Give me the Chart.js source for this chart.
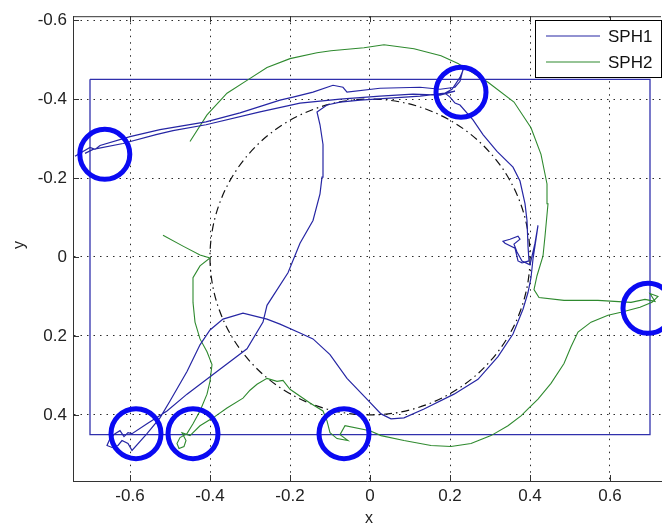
<!DOCTYPE html>
<html>
<head>
<meta charset="utf-8">
<script src="https://cdn.jsdelivr.net/npm/chart.js@4.4.0/dist/chart.umd.min.js"></script>
<style>
  html, body { margin: 0; padding: 0; background: #fff; }
</style>
</head>
<body>
<canvas id="myChart" width="662" height="529"></canvas>
<script>
// axis ranges and ticks (y axis is reversed, like the original plot)
var xMin = -0.7425, xMax = 0.7275;
var yMin = -0.61, yMax = 0.5675;
var xTicks = [-0.6, -0.4, -0.2, 0, 0.2, 0.4, 0.6];
var yTicks = [-0.6, -0.4, -0.2, 0, 0.2, 0.4];

// SPH1 track (blue)
var sph1Path = [
  [-0.7375,-0.255],[-0.7175,-0.2675],[-0.70,-0.2775],[-0.6875,-0.2725],[-0.675,-0.2825],
  [-0.60,-0.305],[-0.525,-0.3225],[-0.41,-0.3425],[-0.325,-0.365],[-0.225,-0.3975],
  [-0.1925,-0.405],[-0.1425,-0.4175],[-0.0925,-0.435],[-0.0675,-0.43],[-0.0575,-0.4175],
  [0.025,-0.4275],[0.125,-0.43],[0.175,-0.425],[0.2125,-0.43],
  [0.225,-0.445],[0.2325,-0.475],[0.2375,-0.485],[0.225,-0.455],[0.205,-0.425],[0.1875,-0.415],[0.20,-0.405],[0.2125,-0.39],
  [0.225,-0.385],[0.2575,-0.3475],[0.2825,-0.31],[0.3175,-0.2675],[0.3575,-0.2275],[0.375,-0.1925],
  [0.3875,-0.135],[0.3925,-0.0925],[0.395,-0.0275],[0.3975,0.01],
  [0.38,0.015],[0.37,0.01],[0.3625,-0.0225],[0.3375,-0.035],[0.3325,-0.04],[0.35,-0.045],[0.37,-0.0525],
  [0.375,-0.045],[0.36,-0.0325],[0.3675,-0.0125],[0.38,0.01],
  [0.40,0.02],[0.4125,-0.035],[0.42,-0.08],[0.415,-0.045],[0.4075,0.005],[0.4025,0.0525],[0.395,0.09],
  [0.3825,0.1325],[0.3575,0.195],[0.32,0.2525],[0.27,0.31],[0.21,0.3475],[0.135,0.385],[0.085,0.4075],
  [0.0525,0.41],[0.0275,0.3975],[-0.0125,0.355],[-0.0575,0.3075],[-0.10,0.2475],[-0.1425,0.2075],
  [-0.175,0.1925],[-0.225,0.17],[-0.2575,0.1575],[-0.3175,0.1425],[-0.3675,0.1575],[-0.40,0.185],
  [-0.425,0.2225],[-0.4575,0.29],[-0.50,0.365],[-0.525,0.4075],[-0.5575,0.4475],[-0.595,0.49],
  [-0.605,0.4725],[-0.62,0.465],[-0.63,0.4775],[-0.645,0.4825],[-0.6575,0.4775],[-0.65,0.46],
  [-0.6375,0.4475],[-0.625,0.44],[-0.615,0.455],[-0.605,0.445],[-0.595,0.4475],
  [-0.5575,0.4225],[-0.5075,0.39],[-0.4575,0.3475],[-0.3925,0.2975],[-0.3075,0.2325],[-0.2675,0.165],
  [-0.2575,0.1225],[-0.205,0.04],[-0.175,-0.035],[-0.1425,-0.0925],[-0.125,-0.16],[-0.12,-0.2025],
  [-0.1175,-0.285],[-0.125,-0.335],[-0.1325,-0.3675],[-0.1075,-0.385],[-0.075,-0.3925],[-0.025,-0.3975],
  [0.05,-0.4025],[0.125,-0.4075],[0.1875,-0.415],[0.2125,-0.42],
  [0.175,-0.41],[0.1075,-0.4125],[0.025,-0.4075],[-0.075,-0.40],[-0.175,-0.39],[-0.275,-0.3675],
  [-0.41,-0.335],[-0.4925,-0.32],[-0.535,-0.31],[-0.6175,-0.2875],[-0.6925,-0.2725],[-0.7125,-0.2625]
];

// SPH2 track (green)
var sph2Path = [
  [-0.5175,-0.055],[-0.4675,-0.0275],[-0.425,-0.005],[-0.40,0.0025],[-0.425,0.0225],[-0.4425,0.0525],
  [-0.4425,0.115],[-0.4375,0.165],[-0.425,0.2075],[-0.4075,0.24],[-0.395,0.2725],[-0.40,0.315],
  [-0.4075,0.3475],[-0.425,0.39],[-0.4425,0.4225],[-0.4575,0.4475],
  [-0.475,0.4575],[-0.4825,0.4725],[-0.4775,0.485],[-0.465,0.48],[-0.46,0.465],[-0.47,0.445],[-0.45,0.4525],
  [-0.425,0.4275],[-0.3925,0.4075],[-0.3575,0.3825],[-0.3175,0.3575],[-0.30,0.3375],[-0.2825,0.3225],
  [-0.2575,0.3075],[-0.2325,0.315],[-0.2175,0.3125],[-0.20,0.335],[-0.15,0.37],[-0.1175,0.39],
  [-0.1075,0.415],[-0.10,0.445],[-0.0825,0.46],[-0.055,0.465],[-0.075,0.45],[-0.0625,0.4275],
  [0.0,0.44],[0.0275,0.4525],[0.085,0.465],[0.1525,0.4775],[0.2025,0.48],[0.2525,0.4725],[0.3025,0.4525],
  [0.345,0.4275],[0.3775,0.4025],[0.395,0.385],[0.42,0.36],[0.4525,0.32],[0.485,0.27],[0.5025,0.2275],
  [0.52,0.19],[0.5525,0.165],[0.595,0.1475],[0.6275,0.14],[0.675,0.1275],[0.705,0.115],
  [0.72,0.10],[0.70,0.0925],[0.7125,0.1125],[0.6875,0.1075],
  [0.6525,0.115],[0.57,0.11],[0.485,0.11],[0.4225,0.1025],[0.41,0.0825],[0.4175,0.0475],[0.4325,-0.0025],
  [0.4375,-0.0525],[0.445,-0.135],[0.4425,-0.185],[0.4275,-0.26],[0.4025,-0.3275],[0.36,-0.3925],
  [0.295,-0.4425],[0.22,-0.49],[0.1775,-0.51],[0.11,-0.5275],[0.035,-0.5375],[-0.015,-0.53],
  [-0.0975,-0.5225],[-0.1325,-0.5175],[-0.20,-0.5025],[-0.2575,-0.48],[-0.3075,-0.4475],[-0.3575,-0.415],
  [-0.4075,-0.36],[-0.45,-0.2925]
];

// highlighted spots (big blue rings)
var ringCentres = [
  [-0.663,-0.26],[0.2275,-0.4175],[0.695,0.13],[-0.585,0.4475],[-0.4425,0.4475],[-0.065,0.4475]
];

// arena rectangle and reference circle
var arenaBox = [[-0.7,-0.45],[0.7,-0.45],[0.7,0.45],[-0.7,0.45],[-0.7,-0.45]];
var refCentre = [0, 0];
var refRadius = 0.4;

var FONT = "'Liberation Sans', Arial, sans-serif";

function pts(a) {
  return a.map(function(p) { return {x: p[0], y: p[1]}; });
}

var decor = {
  id: 'decor',
  beforeDatasetsDraw: function(chart) {
    var ctx = chart.ctx, xs = chart.scales.x, ys = chart.scales.y;
    var cx = xs.getPixelForValue(refCentre[0]);
    var cy = ys.getPixelForValue(refCentre[1]);
    var rx = Math.abs(xs.getPixelForValue(refCentre[0] + refRadius) - cx);
    var ry = Math.abs(ys.getPixelForValue(refCentre[1] + refRadius) - cy);
    ctx.save();
    ctx.strokeStyle = '#111';
    ctx.lineWidth = 1.2;
    ctx.setLineDash([8, 4, 1.5, 4]);
    ctx.beginPath();
    ctx.ellipse(cx, cy, rx, ry, 0, 0, Math.PI * 2);
    ctx.stroke();
    ctx.restore();
  },
  afterDraw: function(chart) {
    var ctx = chart.ctx, a = chart.chartArea;
    var xs = chart.scales.x, ys = chart.scales.y;
    ctx.save();
    ctx.strokeStyle = '#333';
    ctx.lineWidth = 1;
    ctx.beginPath();
    ctx.moveTo(a.left, a.top + 0.5);
    ctx.lineTo(a.right, a.top + 0.5);
    // inward ticks
    xTicks.forEach(function(v) {
      var px = Math.round(xs.getPixelForValue(v)) + 0.5;
      ctx.moveTo(px, a.bottom); ctx.lineTo(px, a.bottom - 6);
      ctx.moveTo(px, a.top); ctx.lineTo(px, a.top + 6);
    });
    yTicks.forEach(function(v) {
      var py = Math.round(ys.getPixelForValue(v)) + 0.5;
      ctx.moveTo(a.left, py); ctx.lineTo(a.left + 6, py);
    });
    ctx.stroke();

    // axis titles
    ctx.fillStyle = '#222';
    ctx.font = '16px ' + FONT;
    ctx.textAlign = 'center';
    ctx.textBaseline = 'middle';
    ctx.fillText('x', 369, 519);
    ctx.save();
    ctx.translate(20, 245);
    ctx.rotate(-Math.PI / 2);
    ctx.fillText('y', 0, 0);
    ctx.restore();

    // legend box
    var lx = 535.5, ly = 20.5, lw = 126, lh = 57;
    ctx.fillStyle = '#fff';
    ctx.fillRect(lx, ly, lw, lh);
    ctx.strokeStyle = '#000';
    ctx.strokeRect(lx, ly, lw, lh);
    ctx.font = '17px ' + FONT;
    ctx.textAlign = 'left';
    chart.data.datasets.filter(function(d) { return d.inLegend; }).forEach(function(d, i) {
      var yy = 36 + i * 26;
      ctx.strokeStyle = d.borderColor;
      ctx.lineWidth = 1.2;
      ctx.beginPath();
      ctx.moveTo(546, yy); ctx.lineTo(600, yy);
      ctx.stroke();
      ctx.fillStyle = '#111';
      ctx.fillText(d.label, 608, yy + 1);
    });
    ctx.restore();
  }
};

var ctx = document.getElementById('myChart').getContext('2d');

new Chart(ctx, {
  type: 'scatter',
  data: {
    datasets: [
      {
        label: 'rings',
        data: pts(ringCentres),
        showLine: false,
        pointStyle: 'circle',
        pointRadius: 25,
        pointBorderWidth: 5,
        pointBorderColor: '#0a0af2',
        pointBackgroundColor: 'rgba(0,0,0,0)',
        clip: false,
        order: 0
      },
      {
        label: 'SPH1',
        inLegend: true,
        data: pts(sph1Path),
        showLine: true,
        borderColor: '#2626a4',
        borderWidth: 1.2,
        pointRadius: 0,
        tension: 0,
        order: 1
      },
      {
        label: 'SPH2',
        inLegend: true,
        data: pts(sph2Path),
        showLine: true,
        borderColor: '#2f8a2f',
        borderWidth: 1.1,
        pointRadius: 0,
        tension: 0,
        order: 2
      },
      {
        label: 'box',
        data: pts(arenaBox),
        showLine: true,
        borderColor: '#3030ac',
        borderWidth: 1.3,
        pointRadius: 0,
        tension: 0,
        order: 3
      }
    ]
  },
  options: {
    responsive: false,
    animation: false,
    layout: { autoPadding: false, padding: { top: 10, right: 1, left: 0, bottom: 0 } },
    plugins: { legend: { display: false }, tooltip: { enabled: false } },
    scales: {
      x: {
        type: 'linear',
        min: xMin,
        max: xMax,
        afterBuildTicks: function(s) { s.ticks = xTicks.map(function(v) { return {value: v}; }); },
        afterFit: function(s) { s.height = 48; },
        grid: { color: 'rgba(20,20,20,0.9)', lineWidth: 1, drawTicks: false },
        border: { display: true, color: '#333', width: 1, dash: [1.5, 5] },
        ticks: {
          padding: 5, color: '#222', autoSkip: false, maxRotation: 0, minRotation: 0,
          font: { family: FONT, size: 17 },
          callback: function(v) { return String(v); }
        }
      },
      y: {
        type: 'linear',
        reverse: true,
        min: yMin,
        max: yMax,
        afterBuildTicks: function(s) { s.ticks = yTicks.map(function(v) { return {value: v}; }); },
        afterFit: function(s) { s.width = 73; },
        grid: { color: 'rgba(20,20,20,0.9)', lineWidth: 1, drawTicks: false },
        border: { display: true, color: '#333', width: 1, dash: [1.5, 5] },
        ticks: {
          padding: 6, color: '#222', autoSkip: false,
          font: { family: FONT, size: 17 },
          callback: function(v) { return String(v); }
        }
      }
    }
  },
  plugins: [decor]
});
</script>
</body>
</html>
